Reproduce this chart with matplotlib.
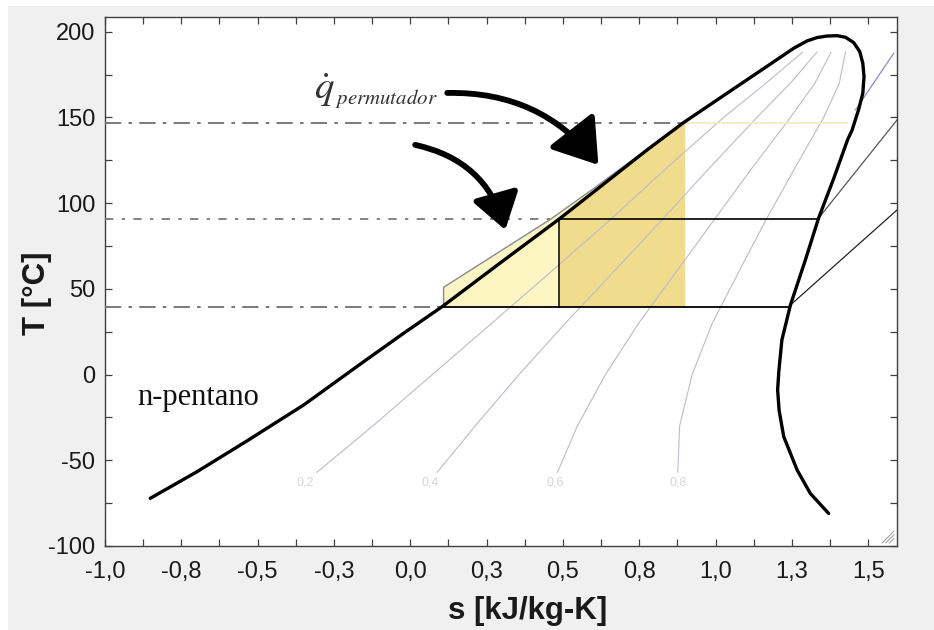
import matplotlib
matplotlib.use("Agg")
import matplotlib.pyplot as plt
from matplotlib.patches import FancyArrowPatch, Rectangle, Polygon
from matplotlib.ticker import MultipleLocator

plt.rcParams["axes.unicode_minus"] = False
plt.rcParams["mathtext.fontset"] = "stix"

# --- n-pentane saturation dome (s in kJ/kg-K, T in degC) ---
s_liq = [-0.852, -0.699, -0.535, -0.349, -0.153, -0.022, 0.104, 0.295, 0.488,
         0.775, 0.895, 0.993, 1.103, 1.212, 1.256, 1.299, 1.332, 1.365, 1.398]
T_liq = [-72.2, -56.7, -38.7, -17.7, 7.5, 24.1, 39.6, 65.2, 90.8,
         131.0, 147.0, 158.8, 172.0, 185.1, 190.4, 194.6, 196.6, 197.5, 197.7]

s_vap = [1.425, 1.452, 1.472, 1.482, 1.486, 1.482, 1.468, 1.447, 1.432, 1.387,
         1.337, 1.294, 1.245, 1.217, 1.207, 1.203, 1.208, 1.223, 1.267, 1.310, 1.370]
T_vap = [196.8, 193.7, 188.4, 181.6, 173.8, 164.1, 154.4, 142.7, 136.9, 114.5,
         91.2, 66.9, 40.6, 20.2, 2.0, -9.0, -21.0, -36.2, -55.7, -69.3, -81.0]

# --- constant-quality lines ---
T_qual = [-57, -30, 0, 30, 60, 90, 120, 150, 170, 188]
s_q02 = [-0.306, -0.123, 0.072, 0.267, 0.461, 0.653, 0.836, 1.026, 1.165, 1.284]
s_q04 = [0.088, 0.212, 0.356, 0.508, 0.666, 0.823, 0.977, 1.135, 1.245, 1.331]
s_q06 = [0.482, 0.547, 0.639, 0.748, 0.871, 0.994, 1.117, 1.245, 1.325, 1.378]
s_q08 = [0.876, 0.882, 0.923, 0.989, 1.076, 1.164, 1.258, 1.354, 1.405, 1.425]
qual_labels = ["0,2", "0,4", "0,6", "0,8"]
qual_label_s = [-0.344, 0.066, 0.475, 0.878]
qual_label_T = -63

# --- cycle levels ---
T_evap = 39.6      # condensation level
T_mid = 90.8       # intermediate level
T_high = 147.0     # heat-exchanger level
s_mid = 0.488
s_high = 0.90

# compressed-liquid line (pump outlet) next to the saturated liquid line
s_cl = [0.109, 0.109, 0.300, 0.459, 0.600, 0.775, 0.895]
T_cl = [39.6, 50.9, 72.6, 90.6, 108.5, 131.5, 147.5]

# superheated isobars leaving the dome
iso_low_s = [1.245, 1.594]
iso_low_T = [40.6, 96.0]
iso_mid_s = [1.337, 1.594]
iso_mid_T = [91.2, 148.5]
iso_high_s = [1.458, 1.583]
iso_high_T = [154.4, 187.4]

# tick labels
x_ticks = [-1.0, -0.75, -0.5, -0.25, 0.0, 0.25, 0.5, 0.75, 1.0, 1.25, 1.5]
x_labels = ["-1,0", "-0,8", "-0,5", "-0,3", "0,0", "0,3", "0,5", "0,8", "1,0", "1,3", "1,5"]
y_ticks = [-100, -50, 0, 50, 100, 150, 200]

W, H = 934, 630
fig = plt.figure(figsize=(W / 100, H / 100), dpi=100, facecolor="white")
fig.patches.append(Rectangle((8 / W, 0), 1 - 8 / W, 1 - 6 / H, transform=fig.transFigure,
                             facecolor="#f0f0f0", edgecolor="none", zorder=-10))
ax = fig.add_axes([105 / W, 84 / H, 792 / W, 529 / H])
ax.set_xlim(-1.0, 1.594)
ax.set_ylim(-100, 208.6)

# shaded heat areas
light_poly = [(s_liq[6], T_evap), (s_liq[7], T_liq[7]), (s_mid, T_mid), (s_mid, T_evap)]
ax.add_patch(Polygon(light_poly, closed=True, facecolor="#fdf6c2", edgecolor="none", zorder=1))
dark_poly = [(s_mid, T_evap), (s_mid, T_mid), (s_liq[9], T_liq[9]), (s_high, T_high), (s_high, T_evap)]
ax.add_patch(Polygon(dark_poly, closed=True, facecolor="#f1dc8e", edgecolor="none", zorder=1))
sliver = list(zip(s_cl, T_cl)) + [(s_liq[i], T_liq[i]) for i in (10, 9, 8, 7, 6)]
ax.add_patch(Polygon(sliver, closed=True, facecolor="#fbf4c4", edgecolor="none", zorder=1))

# quality lines
for sq in (s_q02, s_q04, s_q06, s_q08):
    ax.plot(sq, T_qual, color="#b9bccb", lw=0.8, zorder=2)
for lab, sx in zip(qual_labels, qual_label_s):
    ax.text(sx, qual_label_T, lab, color="#d6d6d6", fontsize=9, ha="center", va="center",
            family="Liberation Sans", zorder=2)

# reference levels
dash = (0, (9, 4, 2, 4))
ax.plot([-1.0, s_high], [T_high, T_high], color="#6e6e6e", lw=1.3, ls=dash, zorder=3)
ax.plot([-1.0, s_mid], [T_mid, T_mid], color="#6e6e6e", lw=1.2, ls=(0, (5, 5, 2, 5)), zorder=3)
ax.plot([-1.0, s_liq[6]], [T_evap, T_evap], color="#6e6e6e", lw=1.3, ls=dash, zorder=3)
ax.plot([s_high, 1.43], [T_high, T_high], color="#efedc6", lw=1.3, zorder=2)

# cycle outline
ax.plot(s_cl, T_cl, color="#8a8a8a", lw=1.0, zorder=3)
ax.plot([s_mid, iso_mid_s[0]], [T_mid, T_mid], color="black", lw=1.2, zorder=4)
ax.plot([s_liq[6], iso_low_s[0]], [T_evap, T_evap], color="black", lw=1.3, zorder=4)
ax.plot([s_mid, s_mid], [T_evap, T_mid], color="black", lw=1.1, zorder=4)
ax.plot(iso_low_s, iso_low_T, color="#222222", lw=0.9, zorder=3)
ax.plot(iso_mid_s, iso_mid_T, color="#555555", lw=0.9, zorder=3)
ax.plot(iso_high_s, iso_high_T, color="#8a8ad6", lw=0.9, zorder=3)

# saturation dome
ax.plot(s_liq + s_vap, T_liq + T_vap, color="black", lw=2.4, solid_capstyle="round",
        solid_joinstyle="round", zorder=5)

# heat-flow arrows
for tail, tip, rad, scale in (((0.121, 164.3), (0.616, 122.3), -0.25, 22),
                              ((0.016, 134.0), (0.311, 84.4), -0.30, 18)):
    ax.add_patch(FancyArrowPatch(tail, tip, connectionstyle=f"arc3,rad={rad}",
                                 arrowstyle="-|>,head_length=1.2,head_width=0.8",
                                 mutation_scale=scale, lw=4.2, color="black",
                                 shrinkA=0, shrinkB=0, zorder=6))

# annotations
ax.text(-0.317, 160.8, r"$\dot{q}$", fontsize=28, color="#333333",
        ha="left", va="baseline", zorder=6)
ax.text(-0.248, 158.0, r"$permutador$", fontsize=15, color="#333333",
        ha="left", va="baseline", zorder=6)
ax.text(-0.894, -17.7, "n-pentano", fontsize=22, family="Liberation Serif",
        color="#111111", ha="left", va="baseline", zorder=6)

# axes styling
for sp in ax.spines.values():
    sp.set_color("#404040")
    sp.set_linewidth(1.0)
ax.set_xticks(x_ticks)
ax.set_xticklabels(x_labels)
ax.set_yticks(y_ticks)
ax.xaxis.set_minor_locator(MultipleLocator(0.125))
ax.yaxis.set_minor_locator(MultipleLocator(25))
ax.tick_params(which="both", direction="in", top=True, right=True, length=5,
               width=0.9, color="#404040")
ax.tick_params(which="major", labelsize=17, labelcolor="#1a1a1a")
ax.tick_params(axis="x", which="major", pad=11)
ax.tick_params(axis="y", which="major", pad=7)
for lab in ax.get_xticklabels() + ax.get_yticklabels():
    lab.set_family("Liberation Sans")
ax.set_xlabel("s [kJ/kg-K]", fontsize=22.5, fontweight="bold", family="Liberation Sans",
              color="#1a1a1a")
ax.set_ylabel("T [°C]", fontsize=22.5, fontweight="bold", family="Liberation Sans",
              color="#1a1a1a")
ax.xaxis.set_label_coords(0.533, -0.095)
ax.yaxis.set_label_coords(-0.067, 0.478)

# window resize grip in the lower right corner
for k in range(3):
    d = 0.008 + 0.007 * k
    ax.plot([0.996 - d * 0.66, 0.996], [0.006, 0.006 + d], transform=ax.transAxes,
            color="#9a9a9a", lw=0.7, zorder=6, clip_on=False)

fig.savefig("out.png", dpi=100, facecolor=fig.get_facecolor())
